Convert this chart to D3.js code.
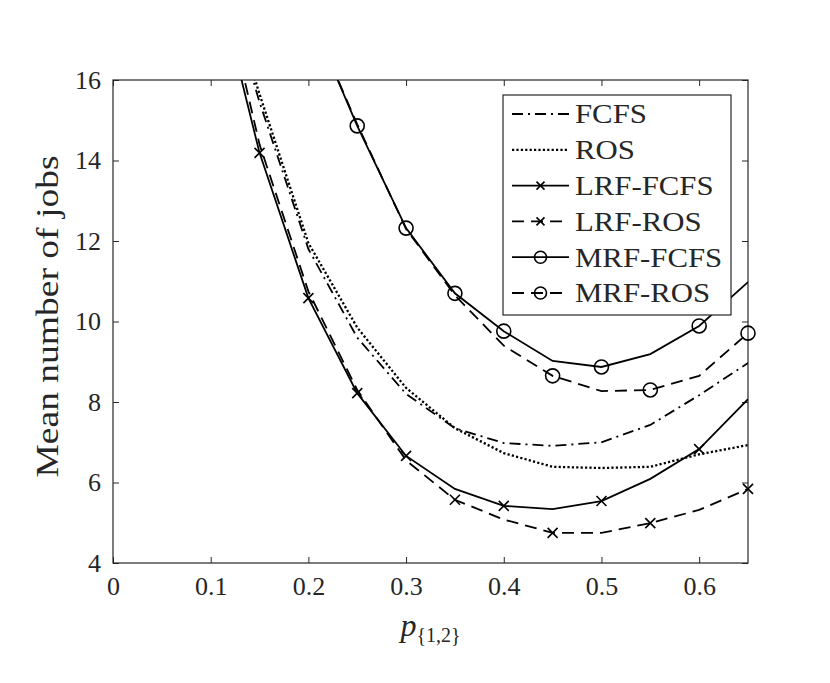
<!DOCTYPE html>
<html>
<head>
<meta charset="utf-8">
<script src="https://cdn.jsdelivr.net/npm/d3@7"></script>
<style>
  body { margin: 0; background: #fff; }
</style>
</head>
<body>
<div class="chart"></div>
<script>
// x positions of the data points
var pValues = [0.1, 0.15, 0.2, 0.25, 0.3, 0.35, 0.4, 0.45, 0.5, 0.55, 0.6, 0.65];

// mean number of jobs, one array per policy (null = not plotted)
var fcfs     = [19.6, 15.45, 11.8, 9.6, 8.2, 7.35, 6.98, 6.91, 7.0, 7.43, 8.17, 8.97];
var ros      = [19.6, 15.65, 11.95, 9.85, 8.35, 7.35, 6.73, 6.39, 6.36, 6.39, 6.7, 6.93];
var lrfFcfs  = [19.1, 14.19, 10.58, 8.22, 6.66, 5.84, 5.42, 5.34, 5.54, 6.09, 6.83, 8.07];
var lrfRos   = [19.6, 14.4, 10.75, 8.3, 6.55, 5.57, 5.08, 4.75, 4.75, 4.99, 5.32, 5.84];
var mrfFcfs  = [null, null, 17.7, 14.86, 12.32, 10.7, 9.76, 9.02, 8.87, 9.19, 9.89, 10.98];
var mrfRos   = [null, null, 17.7, 14.9, 12.3, 10.65, 9.4, 8.65, 8.27, 8.3, 8.65, 9.71];

// where each series shows a marker
var lrfFcfsMarks = [0.15, 0.2, 0.25, 0.3, 0.4, 0.5, 0.6];
var lrfRosMarks  = [0.35, 0.45, 0.55, 0.65];
var mrfFcfsMarks = [0.25, 0.3, 0.35, 0.4, 0.5, 0.6];
var mrfRosMarks  = [0.45, 0.55, 0.65];

var xTicks = [0, 0.1, 0.2, 0.3, 0.4, 0.5, 0.6];
var yTicks = [4, 6, 8, 10, 12, 14, 16];

var series = [
  { name: 'FCFS',      values: fcfs,    marks: [],           marker: null,     dash: '11,5,2,5', width: 1.8 },
  { name: 'ROS',       values: ros,     marks: [],           marker: null,     dash: '2.2,2.2',  width: 2.3 },
  { name: 'LRF-FCFS',  values: lrfFcfs, marks: lrfFcfsMarks, marker: 'cross',  dash: null,       width: 1.8 },
  { name: 'LRF-ROS',   values: lrfRos,  marks: lrfRosMarks,  marker: 'cross',  dash: '12,7',     width: 1.8 },
  { name: 'MRF-FCFS',  values: mrfFcfs, marks: mrfFcfsMarks, marker: 'circle', dash: null,       width: 1.8 },
  { name: 'MRF-ROS',   values: mrfRos,  marks: mrfRosMarks,  marker: 'circle', dash: '12,7',     width: 1.8 }
];

var W = 830, H = 683;
var m = { left: 113, right: 82, top: 80, bottom: 120 };
var iw = W - m.left - m.right, ih = H - m.top - m.bottom;
var serif = 'Liberation Serif';
var axisColor = '#262626';

var x = d3.scaleLinear().domain([0, 0.65]).range([0, iw]);
var y = d3.scaleLinear().domain([4, 16]).range([ih, 0]);

var svg = d3.select('.chart').append('svg')
    .attr('width', W)
    .attr('height', H)
    .attr('font-family', serif);

var g = svg.append('g').attr('transform', 'translate(' + m.left + ',' + m.top + ')');

g.append('clipPath').attr('id', 'clip')
  .append('rect').attr('width', iw).attr('height', ih);

// axes with inward ticks, mirrored on top and right (box on)
function styleAxis(sel) {
  sel.attr('font-family', serif);
  sel.select('.domain').remove();
  sel.selectAll('line').attr('stroke', axisColor).attr('stroke-width', 1);
  sel.selectAll('text')
    .attr('font-family', serif)
    .attr('font-size', 26)
    .attr('fill', axisColor);
}

g.append('g').attr('transform', 'translate(0,' + ih + ')')
  .call(d3.axisBottom(x).tickValues(xTicks).tickSizeInner(-6).tickSizeOuter(0).tickPadding(14)
        .tickFormat(d => d === 0 ? '0' : d3.format('.1f')(d)))
  .call(styleAxis)
  .selectAll('text').attr('dy', '0.71em');

g.append('g')
  .call(d3.axisTop(x).tickValues(xTicks).tickSizeInner(-6).tickSizeOuter(0).tickFormat(''))
  .call(styleAxis);

g.append('g')
  .call(d3.axisLeft(y).tickValues(yTicks).tickSizeInner(-6).tickSizeOuter(0).tickPadding(12))
  .call(styleAxis);

g.append('g').attr('transform', 'translate(' + iw + ',0)')
  .call(d3.axisRight(y).tickValues(yTicks).tickSizeInner(-6).tickSizeOuter(0).tickFormat(''))
  .call(styleAxis);

g.append('rect')
  .attr('width', iw).attr('height', ih)
  .attr('fill', 'none').attr('stroke', axisColor).attr('stroke-width', 1.2);

// curves
var line = d3.line()
  .defined(d => d.v !== null)
  .x(d => x(d.p))
  .y(d => y(d.v));

var plot = g.append('g').attr('clip-path', 'url(#clip)');

function drawMarker(sel, type, cx, cy, size) {
  if (type === 'cross') {
    var s = size;
    sel.append('path')
      .attr('d', 'M' + (cx - s) + ',' + (cy - s) + 'L' + (cx + s) + ',' + (cy + s) +
                 'M' + (cx - s) + ',' + (cy + s) + 'L' + (cx + s) + ',' + (cy - s))
      .attr('stroke', '#000').attr('stroke-width', 1.6).attr('fill', 'none');
  } else if (type === 'circle') {
    sel.append('circle')
      .attr('cx', cx).attr('cy', cy).attr('r', size + 2)
      .attr('stroke', '#000').attr('stroke-width', 1.6).attr('fill', 'none');
  }
}

series.forEach(function(s) {
  var pts = pValues.map((p, i) => ({ p: p, v: s.values[i] }));
  plot.append('path')
    .datum(pts)
    .attr('d', line)
    .attr('fill', 'none')
    .attr('stroke', '#000')
    .attr('stroke-width', s.width)
    .attr('stroke-dasharray', s.dash);

  s.marks.forEach(function(p) {
    var i = pValues.findIndex(q => Math.abs(q - p) < 1e-9);
    drawMarker(g, s.marker, x(p), y(s.values[i]), 5);
  });
});

// legend
var lg = svg.append('g').attr('transform', 'translate(503,95)');
lg.append('rect')
  .attr('width', 228).attr('height', 220)
  .attr('fill', '#fff').attr('stroke', axisColor).attr('stroke-width', 1.2);

var item = lg.selectAll('g.item')
  .data(series)
  .enter()
  .append('g')
    .attr('class', 'item')
    .attr('transform', (d, i) => 'translate(0,' + (19 + i * 35.8) + ')');

item.append('line')
  .attr('x1', 9).attr('x2', 66)
  .attr('stroke', '#000').attr('stroke-width', d => d.width)
  .attr('stroke-dasharray', d => d.dash);

item.each(function(d) {
  if (d.marker) drawMarker(d3.select(this), d.marker, 37.5, 0, 4);
});

item.append('text')
  .attr('x', 72)
  .attr('dy', '0.35em')
  .attr('font-size', 27)
  .attr('font-family', serif)
  .attr('fill', axisColor)
  .text(d => d.name)
  .each(function() {
    // Computer Modern runs wider than Times; stretch a little
    var w = this.getComputedTextLength();
    d3.select(this).attr('textLength', w * 1.14).attr('lengthAdjust', 'spacingAndGlyphs');
  });

// axis titles
svg.append('text')
  .attr('transform', 'translate(58,' + (m.top + ih / 2 - 5) + ') rotate(-90)')
  .attr('text-anchor', 'middle')
  .attr('font-size', 32)
  .attr('font-family', serif)
  .attr('fill', axisColor)
  .attr('textLength', 322)
  .attr('lengthAdjust', 'spacingAndGlyphs')
  .text('Mean number of jobs');

var xl = svg.append('text')
  .attr('x', m.left + iw / 2)
  .attr('y', 636)
  .attr('text-anchor', 'middle')
  .attr('font-family', serif)
  .attr('fill', axisColor);
xl.append('tspan').attr('font-size', 32).attr('font-style', 'italic').text('p');
xl.append('tspan').attr('font-size', 20).attr('dy', 6).text('{1,2}');
</script>
</body>
</html>
